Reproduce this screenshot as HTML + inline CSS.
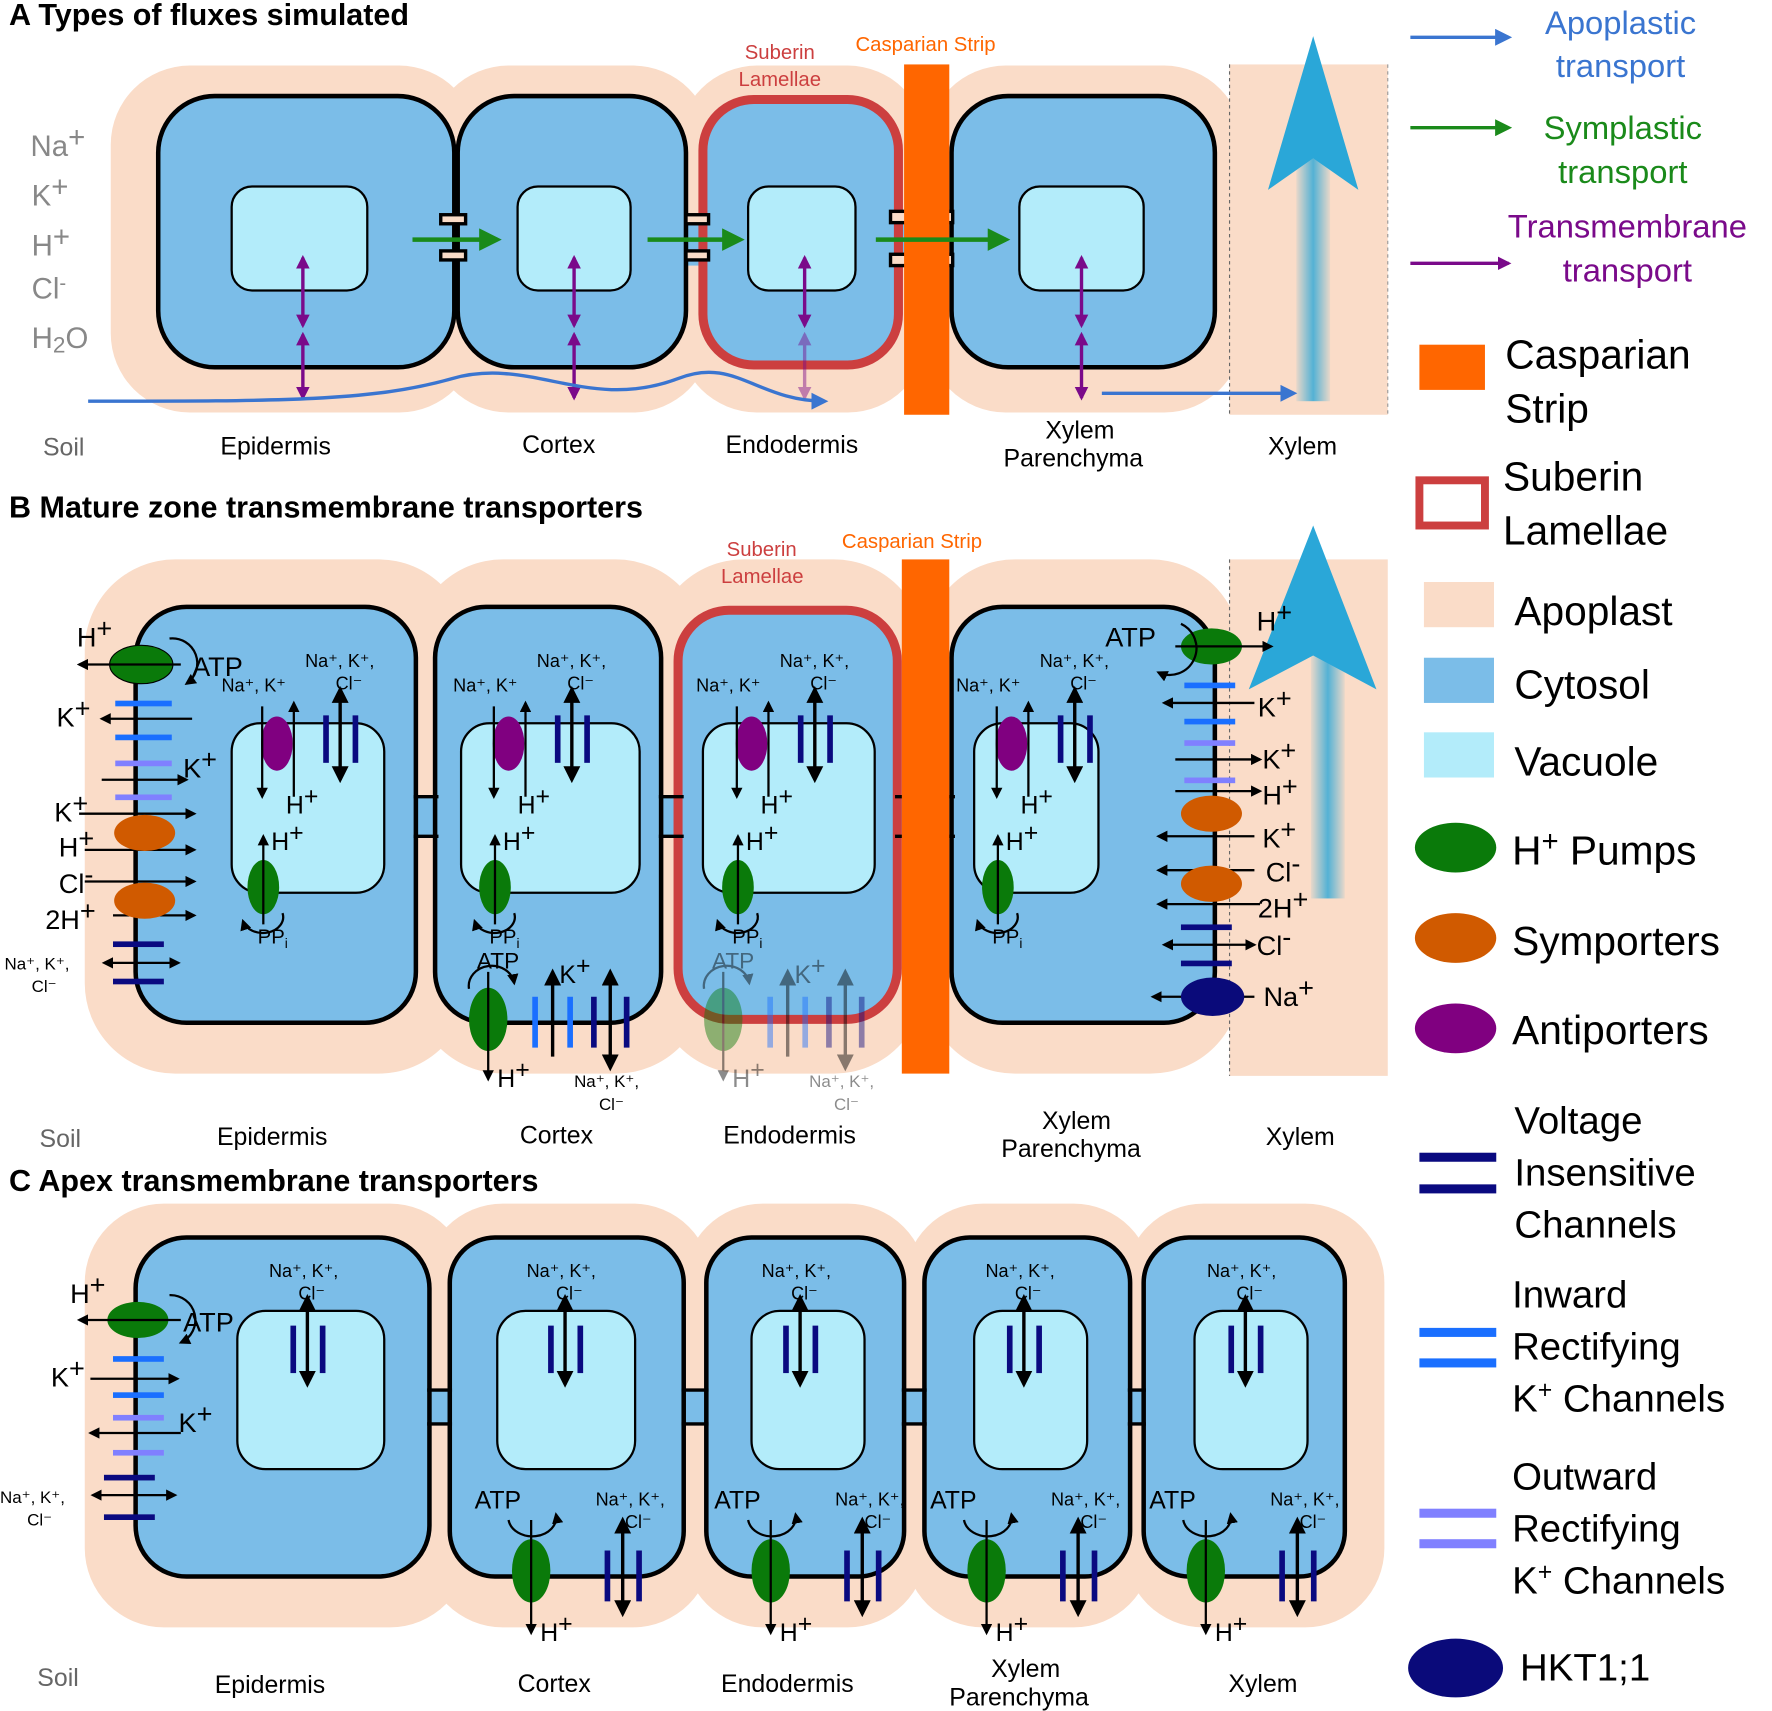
<!DOCTYPE html>
<html><head><meta charset="utf-8"><style>html,body{margin:0;padding:0;background:#fff}svg{display:block}text{font-family:"Liberation Sans","DejaVu Sans",sans-serif}</style></head><body>
<svg width="1772" height="1711" viewBox="0 0 1568 1514" xmlns="http://www.w3.org/2000/svg">
<defs>
<marker id="k" viewBox="0 0 10 10" refX="8" refY="5" markerWidth="5" markerHeight="5" orient="auto-start-reverse"><path d="M0,0L10,5L0,10z" fill="#000"/></marker>
<marker id="p" viewBox="0 0 10 10" refX="8" refY="5" markerWidth="4" markerHeight="5" orient="auto-start-reverse"><path d="M0,0L10,5L0,10z" fill="#7a0a8a"/></marker>
<marker id="g" viewBox="0 0 10 10" refX="8" refY="5" markerWidth="5" markerHeight="5" orient="auto"><path d="M0,0L10,5L0,10z" fill="#1a8a1a"/></marker>
<marker id="b" viewBox="0 0 10 10" refX="8" refY="5" markerWidth="5" markerHeight="5" orient="auto"><path d="M0,0L10,5L0,10z" fill="#3a75d0"/></marker>
<linearGradient id="xh" x1="0" y1="0" x2="1" y2="0"><stop offset="0" stop-color="#2aa7d8" stop-opacity="0.1"/><stop offset="0.5" stop-color="#2aa7d8"/><stop offset="1" stop-color="#2aa7d8" stop-opacity="0.1"/></linearGradient>
</defs>
<g font-size="22" fill="#000">
<!-- ===== PANEL A ===== -->
<text x="8" y="22" font-size="27" font-weight="bold">A Types of fluxes simulated</text>
<g fill="#fadcc8">
<rect x="98" y="58" width="325" height="307" rx="70"/><rect x="380" y="58" width="250" height="307" rx="70"/><rect x="600" y="58" width="220" height="307" rx="70"/><rect x="820" y="58" width="280" height="307" rx="70"/><rect x="1088" y="57" width="140" height="310"/>
</g>
<line x1="1088" y1="57" x2="1088" y2="367" stroke="#666" stroke-dasharray="3,3"/>
<line x1="1228" y1="57" x2="1228" y2="367" stroke="#999" stroke-dasharray="3,3"/>
<g fill="#7bbde8" stroke="#000" stroke-width="4">
<rect x="400" y="190" width="15" height="45" stroke="none"/><rect x="600" y="190" width="30" height="45" stroke="none"/><rect x="790" y="190" width="55" height="45" stroke="none"/>
<rect x="140" y="85" width="262" height="240" rx="50"/>
<rect x="405" y="85" width="202" height="240" rx="50"/>
<rect x="622" y="88" width="173" height="235" rx="45" stroke="#cc3f3f" stroke-width="8"/>
<rect x="842" y="85" width="233" height="240" rx="50"/>
</g>
<g fill="#fadcc8" stroke="#000" stroke-width="3"><rect x="390" y="190" width="22" height="8"/><rect x="390" y="222" width="22" height="8"/><rect x="607" y="190" width="20" height="8"/><rect x="607" y="222" width="20" height="8"/><rect x="788" y="187" width="55" height="10"/><rect x="788" y="225" width="55" height="10"/></g>
<rect x="800" y="57" width="40" height="310" fill="#ff6600"/>
<g fill="#b3ecfa" stroke="#000" stroke-width="2"><rect x="205" y="165" width="120" height="92" rx="18"/><rect x="458" y="165" width="100" height="92" rx="18"/><rect x="662" y="165" width="95" height="92" rx="18"/><rect x="902" y="165" width="110" height="92" rx="18"/></g>
<g stroke="#1a8a1a" stroke-width="4" marker-end="url(#g)"><line x1="365" y1="212" x2="440" y2="212"/><line x1="573" y1="212" x2="655" y2="212"/><line x1="775" y1="212" x2="890" y2="212"/></g>
<g stroke="#7a0a8a" stroke-width="3" marker-start="url(#p)" marker-end="url(#p)">
<line x1="268" y1="228" x2="268" y2="288"/><line x1="268" y1="296" x2="268" y2="352"/>
<line x1="508" y1="228" x2="508" y2="288"/><line x1="508" y1="296" x2="508" y2="352"/>
<line x1="712" y1="228" x2="712" y2="288"/><line x1="712" y1="296" x2="712" y2="352" opacity="0.45"/>
<line x1="957" y1="228" x2="957" y2="288"/><line x1="957" y1="296" x2="957" y2="352"/>
</g>
<path d="M78,355 C250,355 330,355 400,335 C470,315 520,365 600,335 C650,315 670,355 730,355" fill="none" stroke="#3a75d0" stroke-width="3" marker-end="url(#b)"/>
<line x1="975" y1="348" x2="1145" y2="348" stroke="#3a75d0" stroke-width="3" marker-end="url(#b)"/>
<rect x="1147" y="140" width="30" height="215" fill="url(#xh)" opacity="0.8"/>
<path d="M1162,32 L1202,168 L1162,140 L1122,168z" fill="#2aa7d8"/>
<g fill="#888" font-size="26"><text x="27" y="138">Na<tspan dy="-8">+</tspan></text><text x="28" y="182">K<tspan dy="-8">+</tspan></text><text x="28" y="226">H<tspan dy="-8">+</tspan></text><text x="28" y="264">Cl<tspan dy="-8" font-size="18">-</tspan></text><text x="28" y="308">H<tspan font-size="20" dy="4">2</tspan><tspan dy="-4">O</tspan></text></g>
<text x="38" y="403" fill="#666">Soil</text>
<text x="195" y="402">Epidermis</text><text x="462" y="401">Cortex</text><text x="642" y="401">Endodermis</text><text x="925" y="388">Xylem</text><text x="888" y="413">Parenchyma</text><text x="1122" y="402">Xylem</text>
<text x="690" y="52" fill="#cc3f3f" font-size="18" text-anchor="middle">Suberin</text><text x="690" y="76" fill="#cc3f3f" font-size="18" text-anchor="middle">Lamellae</text>
<text x="757" y="45" fill="#ff6600" font-size="18">Casparian Strip</text>

<!-- ===== PANEL B ===== -->
<text x="8" y="458" font-size="27" font-weight="bold">B Mature zone transmembrane transporters</text>
<g fill="#fadcc8">
<rect x="75" y="495" width="340" height="455" rx="80"/><rect x="365" y="495" width="260" height="455" rx="80"/><rect x="578" y="495" width="240" height="455" rx="80"/><rect x="818" y="495" width="280" height="455" rx="80"/><rect x="1088" y="495" width="140" height="457"/>
</g>
<line x1="1088" y1="495" x2="1088" y2="952" stroke="#666" stroke-dasharray="3,3"/>
<g fill="#7bbde8" stroke="#000" stroke-width="4">
<rect x="360" y="705" width="35" height="35" stroke="none"/><rect x="580" y="705" width="30" height="35" stroke="none"/><rect x="790" y="705" width="60" height="35" stroke="none"/>
<rect x="120" y="537" width="248" height="368" rx="45"/>
<rect x="385" y="537" width="200" height="368" rx="45"/>
<rect x="600" y="540" width="194" height="362" rx="45" stroke="#cc3f3f" stroke-width="8"/>
<rect x="842" y="537" width="233" height="368" rx="45"/>
</g>
<g stroke="#000" stroke-width="3"><line x1="366" y1="705" x2="388" y2="705"/><line x1="366" y1="740" x2="388" y2="740"/><line x1="583" y1="705" x2="605" y2="705"/><line x1="583" y1="740" x2="605" y2="740"/><line x1="792" y1="705" x2="845" y2="705"/><line x1="792" y1="740" x2="845" y2="740"/></g>
<rect x="798" y="495" width="42" height="455" fill="#ff6600"/>
<g fill="#b3ecfa" stroke="#000" stroke-width="2"><rect x="205" y="640" width="135" height="150" rx="25"/><rect x="408" y="640" width="158" height="150" rx="25"/><rect x="622" y="640" width="152" height="150" rx="25"/><rect x="862" y="640" width="110" height="150" rx="25"/></g>
<rect x="1160" y="580" width="30" height="215" fill="url(#xh)" opacity="0.8"/>
<path d="M1162,465 L1218,610 L1162,580 L1105,610z" fill="#2aa7d8"/>
<text x="643" y="492" fill="#cc3f3f" font-size="18">Suberin</text><text x="638" y="516" fill="#cc3f3f" font-size="18">Lamellae</text>
<text x="745" y="485" fill="#ff6600" font-size="18">Casparian Strip</text>
<ellipse cx="125" cy="588" rx="28" ry="17" fill="#0a7a0a" stroke="#000"/>
<g stroke="#000" stroke-width="2" marker-end="url(#k)" fill="none">
<line x1="160" y1="588" x2="70" y2="588"/><path d="M150,565 A22,22 0 0 1 165,605"/>
<line x1="170" y1="636" x2="90" y2="636"/><line x1="90" y1="690" x2="165" y2="690"/>
<line x1="70" y1="720" x2="172" y2="720"/><line x1="75" y1="752" x2="172" y2="752"/><line x1="75" y1="780" x2="172" y2="780"/><line x1="100" y1="810" x2="172" y2="810"/>
</g>
<g fill="#1a6fff"><rect x="102" y="620" width="50" height="5"/><rect x="102" y="650" width="50" height="5"/></g>
<g fill="#8080ff"><rect x="102" y="673" width="50" height="5"/><rect x="102" y="703" width="50" height="5"/></g>
<ellipse cx="128" cy="737" rx="27" ry="16" fill="#d05a00"/><ellipse cx="128" cy="797" rx="27" ry="16" fill="#d05a00"/>
<g fill="#0a0a80"><rect x="100" y="833" width="45" height="5"/><rect x="100" y="866" width="45" height="5"/></g>
<line x1="92" y1="852" x2="158" y2="852" stroke="#000" stroke-width="2" marker-start="url(#k)" marker-end="url(#k)"/>
<g font-size="24"><text x="68" y="572">H<tspan dy="-8">+</tspan></text><text x="170" y="598">ATP</text><text x="50" y="643">K<tspan dy="-8">+</tspan></text><text x="162" y="688">K<tspan dy="-8">+</tspan></text><text x="48" y="727">K<tspan dy="-8">+</tspan></text><text x="52" y="758">H<tspan dy="-8">+</tspan></text><text x="52" y="790">Cl<tspan dy="-8">-</tspan></text><text x="40" y="822">2H<tspan dy="-8">+</tspan></text></g>
<text x="4" y="858" font-size="15">Na⁺, K⁺,</text><text x="28" y="878" font-size="15">Cl⁻</text>
<g id="inner">
<ellipse cx="245" cy="658" rx="14" ry="24" fill="#800080"/>
<line x1="232" y1="625" x2="232" y2="705" stroke="#000" stroke-width="2" marker-end="url(#k)"/>
<line x1="260" y1="705" x2="260" y2="622" stroke="#000" stroke-width="2" marker-end="url(#k)"/>
<rect x="286" y="633" width="5" height="42" fill="#0a0a80"/><rect x="312" y="633" width="5" height="42" fill="#0a0a80"/>
<line x1="301" y1="610" x2="301" y2="690" stroke="#000" stroke-width="3" marker-start="url(#k)" marker-end="url(#k)"/>
<ellipse cx="233" cy="785" rx="14" ry="24" fill="#0a7a0a"/>
<line x1="233" y1="818" x2="233" y2="740" stroke="#000" stroke-width="2" marker-end="url(#k)"/>
<path d="M250,808 A18,14 0 0 1 215,815" fill="none" stroke="#000" stroke-width="2" marker-end="url(#k)"/>
<text x="196" y="612" font-size="16">Na⁺, K⁺</text><text x="270" y="590" font-size="16">Na⁺, K⁺,</text><text x="297" y="610" font-size="16">Cl⁻</text>
<text x="253" y="720">H<tspan dy="-8">+</tspan></text><text x="240" y="752">H<tspan dy="-8">+</tspan></text><text x="228" y="835" font-size="18">PP<tspan font-size="12" dy="4">i</tspan></text>
</g>
<use href="#inner" x="205"/><use href="#inner" x="420"/><use href="#inner" x="650"/>
<g id="bot">
<ellipse cx="432" cy="902" rx="17" ry="28" fill="#0a7a0a"/>
<line x1="432" y1="860" x2="432" y2="955" stroke="#000" stroke-width="2" marker-end="url(#k)"/>
<path d="M415,875 A18,16 0 0 1 455,870" fill="none" stroke="#000" stroke-width="2" marker-end="url(#k)"/>
<text x="422" y="857" font-size="20">ATP</text><text x="440" y="962">H<tspan dy="-8">+</tspan></text>
<rect x="471" y="882" width="5" height="45" fill="#1a6fff"/><rect x="502" y="882" width="5" height="45" fill="#1a6fff"/>
<line x1="489" y1="935" x2="489" y2="860" stroke="#000" stroke-width="3" marker-end="url(#k)"/>
<rect x="523" y="882" width="5" height="45" fill="#0a0a80"/><rect x="552" y="882" width="5" height="45" fill="#0a0a80"/>
<line x1="540" y1="860" x2="540" y2="945" stroke="#000" stroke-width="3" marker-start="url(#k)" marker-end="url(#k)"/>
<text x="495" y="870">K<tspan dy="-8">+</tspan></text><text x="508" y="962" font-size="15">Na⁺, K⁺,</text><text x="530" y="982" font-size="15">Cl⁻</text>
</g>
<use href="#bot" x="208" opacity="0.45"/>
<ellipse cx="1072" cy="572" rx="27" ry="16" fill="#0a7a0a"/>
<g stroke="#000" stroke-width="2" marker-end="url(#k)" fill="none">
<line x1="1040" y1="572" x2="1125" y2="572"/><path d="M1045,552 A22,22 0 0 1 1025,595"/>
<line x1="1110" y1="622" x2="1030" y2="622"/><line x1="1040" y1="672" x2="1115" y2="672"/><line x1="1040" y1="700" x2="1115" y2="700"/>
<line x1="1110" y1="740" x2="1025" y2="740"/><line x1="1110" y1="770" x2="1025" y2="770"/><line x1="1115" y1="800" x2="1025" y2="800"/><line x1="1110" y1="882" x2="1020" y2="882"/>
</g>
<g fill="#1a6fff"><rect x="1048" y="604" width="45" height="5"/><rect x="1048" y="636" width="45" height="5"/></g>
<g fill="#8080ff"><rect x="1048" y="655" width="45" height="5"/><rect x="1048" y="688" width="45" height="5"/></g>
<ellipse cx="1072" cy="720" rx="27" ry="16" fill="#d05a00"/><ellipse cx="1072" cy="782" rx="27" ry="16" fill="#d05a00"/>
<g fill="#0a0a80"><rect x="1045" y="818" width="45" height="5"/><rect x="1045" y="850" width="45" height="5"/></g>
<line x1="1030" y1="836" x2="1110" y2="836" stroke="#000" stroke-width="2" marker-start="url(#k)" marker-end="url(#k)"/>
<ellipse cx="1073" cy="882" rx="28" ry="17" fill="#0a0a7a"/>
<g font-size="24"><text x="1112" y="558">H<tspan dy="-8">+</tspan></text><text x="978" y="572">ATP</text><text x="1113" y="634">K<tspan dy="-8">+</tspan></text><text x="1117" y="680">K<tspan dy="-8">+</tspan></text><text x="1117" y="712">H<tspan dy="-8">+</tspan></text><text x="1117" y="750">K<tspan dy="-8">+</tspan></text><text x="1120" y="780">Cl<tspan dy="-8">-</tspan></text><text x="1113" y="812">2H<tspan dy="-8">+</tspan></text><text x="1112" y="845">Cl<tspan dy="-8">-</tspan></text><text x="1118" y="890">Na<tspan dy="-8">+</tspan></text></g>
<text x="35" y="1015" fill="#666">Soil</text>
<text x="192" y="1013">Epidermis</text><text x="460" y="1012">Cortex</text><text x="640" y="1012">Endodermis</text><text x="922" y="999">Xylem</text><text x="886" y="1024">Parenchyma</text><text x="1120" y="1013">Xylem</text>

<!-- ===== PANEL C ===== -->
<text x="8" y="1054" font-size="27" font-weight="bold">C Apex transmembrane transporters</text>
<g fill="#fadcc8">
<rect x="75" y="1065" width="340" height="375" rx="70"/><rect x="375" y="1065" width="255" height="375" rx="70"/><rect x="605" y="1065" width="215" height="375" rx="70"/><rect x="800" y="1065" width="220" height="375" rx="70"/><rect x="995" y="1065" width="230" height="375" rx="70"/>
</g>
<g fill="#7bbde8" stroke="#000" stroke-width="4">
<rect x="375" y="1230" width="30" height="30" stroke="none"/><rect x="600" y="1230" width="30" height="30" stroke="none"/><rect x="795" y="1230" width="30" height="30" stroke="none"/><rect x="995" y="1230" width="25" height="30" stroke="none"/>
<rect x="120" y="1095" width="260" height="300" rx="45"/>
<rect x="398" y="1095" width="207" height="300" rx="40"/>
<rect x="625" y="1095" width="175" height="300" rx="40"/>
<rect x="818" y="1095" width="182" height="300" rx="40"/>
<rect x="1012" y="1095" width="178" height="300" rx="40"/>
</g>
<g stroke="#000" stroke-width="3"><line x1="378" y1="1230" x2="400" y2="1230"/><line x1="378" y1="1260" x2="400" y2="1260"/><line x1="603" y1="1230" x2="627" y2="1230"/><line x1="603" y1="1260" x2="627" y2="1260"/><line x1="798" y1="1230" x2="820" y2="1230"/><line x1="798" y1="1260" x2="820" y2="1260"/><line x1="998" y1="1230" x2="1014" y2="1230"/><line x1="998" y1="1260" x2="1014" y2="1260"/></g>
<g fill="#b3ecfa" stroke="#000" stroke-width="2"><rect x="210" y="1160" width="130" height="140" rx="25"/><rect x="440" y="1160" width="122" height="140" rx="25"/><rect x="665" y="1160" width="100" height="140" rx="25"/><rect x="862" y="1160" width="100" height="140" rx="25"/><rect x="1057" y="1160" width="100" height="140" rx="25"/></g>
<g id="cch">
<rect x="257" y="1173" width="5" height="42" fill="#0a0a80"/><rect x="283" y="1173" width="5" height="42" fill="#0a0a80"/>
<line x1="272" y1="1148" x2="272" y2="1225" stroke="#000" stroke-width="3" marker-start="url(#k)" marker-end="url(#k)"/>
<text x="238" y="1130" font-size="16">Na⁺, K⁺,</text><text x="264" y="1150" font-size="16">Cl⁻</text>
</g>
<use href="#cch" x="228"/><use href="#cch" x="436"/><use href="#cch" x="634"/><use href="#cch" x="830"/>
<g id="cb">
<ellipse cx="470" cy="1390" rx="17" ry="28" fill="#0a7a0a"/>
<line x1="470" y1="1345" x2="470" y2="1445" stroke="#000" stroke-width="2" marker-end="url(#k)"/>
<path d="M450,1345 A20,16 0 0 0 492,1340" fill="none" stroke="#000" stroke-width="2" marker-end="url(#k)"/>
<text x="420" y="1335">ATP</text><text x="478" y="1452">H<tspan dy="-8">+</tspan></text>
<rect x="535" y="1372" width="5" height="45" fill="#0a0a80"/><rect x="563" y="1372" width="5" height="45" fill="#0a0a80"/>
<line x1="551" y1="1345" x2="551" y2="1428" stroke="#000" stroke-width="3" marker-start="url(#k)" marker-end="url(#k)"/>
<text x="527" y="1332" font-size="16">Na⁺, K⁺,</text><text x="553" y="1352" font-size="16">Cl⁻</text>
</g>
<use href="#cb" x="212"/><use href="#cb" x="403"/><use href="#cb" x="597"/>
<ellipse cx="122" cy="1168" rx="27" ry="16" fill="#0a7a0a"/>
<g stroke="#000" stroke-width="2" marker-end="url(#k)" fill="none">
<line x1="160" y1="1168" x2="70" y2="1168"/><path d="M150,1146 A22,22 0 0 1 160,1188"/>
<line x1="80" y1="1220" x2="157" y2="1220"/><line x1="160" y1="1268" x2="80" y2="1268"/>
</g>
<g fill="#1a6fff"><rect x="100" y="1200" width="45" height="5"/><rect x="100" y="1232" width="45" height="5"/></g>
<g fill="#8080ff"><rect x="100" y="1252" width="45" height="5"/><rect x="100" y="1283" width="45" height="5"/></g>
<g fill="#0a0a80"><rect x="92" y="1305" width="45" height="5"/><rect x="92" y="1340" width="45" height="5"/></g>
<line x1="82" y1="1323" x2="155" y2="1323" stroke="#000" stroke-width="2" marker-start="url(#k)" marker-end="url(#k)"/>
<g font-size="24"><text x="62" y="1153">H<tspan dy="-8">+</tspan></text><text x="162" y="1178">ATP</text><text x="45" y="1227">K<tspan dy="-8">+</tspan></text><text x="158" y="1267">K<tspan dy="-8">+</tspan></text></g>
<text x="0" y="1330" font-size="15">Na⁺, K⁺,</text><text x="24" y="1350" font-size="15">Cl⁻</text>
<text x="33" y="1492" fill="#666">Soil</text>
<text x="190" y="1498">Epidermis</text><text x="458" y="1497">Cortex</text><text x="638" y="1497">Endodermis</text><text x="877" y="1484">Xylem</text><text x="840" y="1509">Parenchyma</text><text x="1087" y="1497">Xylem</text>

<!-- ===== LEGEND ===== -->
<line x1="1248" y1="33" x2="1335" y2="33" stroke="#3a75d0" stroke-width="3" marker-end="url(#b)"/>
<text x="1434" y="30" font-size="29" fill="#3a75d0" text-anchor="middle">Apoplastic</text><text x="1434" y="68" font-size="29" fill="#3a75d0" text-anchor="middle">transport</text>
<line x1="1248" y1="113" x2="1335" y2="113" stroke="#1a8a1a" stroke-width="3" marker-end="url(#g)"/>
<text x="1436" y="123" font-size="29" fill="#1a8a1a" text-anchor="middle">Symplastic</text><text x="1436" y="162" font-size="29" fill="#1a8a1a" text-anchor="middle">transport</text>
<line x1="1248" y1="233" x2="1335" y2="233" stroke="#7a0a8a" stroke-width="3" marker-end="url(#p)"/>
<text x="1440" y="210" font-size="29" fill="#7a0a8a" text-anchor="middle">Transmembrane</text><text x="1440" y="249" font-size="29" fill="#7a0a8a" text-anchor="middle">transport</text>
<g font-size="36">
<rect x="1256" y="305" width="58" height="40" fill="#ff6600"/><text x="1332" y="326">Casparian</text><text x="1332" y="374">Strip</text>
<rect x="1256" y="425" width="58" height="40" fill="none" stroke="#cc3f3f" stroke-width="7"/><text x="1330" y="434">Suberin</text><text x="1330" y="482">Lamellae</text>
<rect x="1260" y="515" width="62" height="40" fill="#fadcc8"/><text x="1340" y="553">Apoplast</text>
<rect x="1260" y="582" width="62" height="40" fill="#7bbde8"/><text x="1340" y="618">Cytosol</text>
<rect x="1260" y="648" width="62" height="40" fill="#b3ecfa"/><text x="1340" y="686">Vacuole</text>
<ellipse cx="1288" cy="750" rx="36" ry="22" fill="#0a7a0a"/><text x="1338" y="765">H<tspan dy="-12" font-size="26">+</tspan><tspan dy="12"> Pumps</tspan></text>
<ellipse cx="1288" cy="830" rx="36" ry="22" fill="#d05a00"/><text x="1338" y="845">Symporters</text>
<ellipse cx="1288" cy="910" rx="36" ry="22" fill="#800080"/><text x="1338" y="924">Antiporters</text>
<g font-size="34"><text x="1340" y="1003">Voltage</text><text x="1340" y="1049">Insensitive</text><text x="1340" y="1095">Channels</text>
<rect x="1256" y="1020" width="68" height="8" fill="#0a0a80"/><rect x="1256" y="1048" width="68" height="8" fill="#0a0a80"/>
<text x="1338" y="1157">Inward</text><text x="1338" y="1203">Rectifying</text><text x="1338" y="1249">K<tspan dy="-12" font-size="22">+</tspan><tspan dy="12"> Channels</tspan></text>
<rect x="1256" y="1175" width="68" height="8" fill="#1a6fff"/><rect x="1256" y="1202" width="68" height="8" fill="#1a6fff"/>
<text x="1338" y="1318">Outward</text><text x="1338" y="1364">Rectifying</text><text x="1338" y="1410">K<tspan dy="-12" font-size="22">+</tspan><tspan dy="12"> Channels</tspan></text>
<rect x="1256" y="1335" width="68" height="8" fill="#8080ff"/><rect x="1256" y="1362" width="68" height="8" fill="#8080ff"/>
<ellipse cx="1288" cy="1476" rx="42" ry="26" fill="#0a0a7a"/><text x="1345" y="1487">HKT1;1</text></g>
</g>
</g>
</svg>
</body></html>
